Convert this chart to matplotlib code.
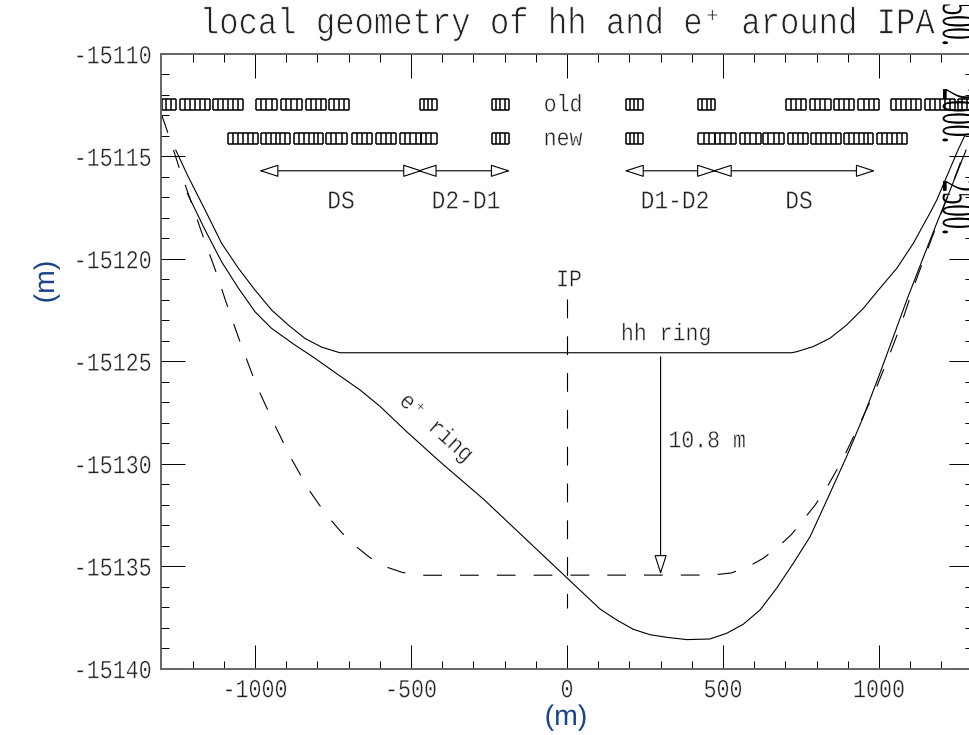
import matplotlib
matplotlib.use("Agg")
import matplotlib.pyplot as plt
import matplotlib.patheffects as pe
from matplotlib.ticker import MultipleLocator
from matplotlib.transforms import Affine2D

plt.rcParams["font.family"] = ["Liberation Mono", "DejaVu Sans Mono"]
plt.rcParams["axes.unicode_minus"] = False
plt.rcParams["lines.scale_dashes"] = False

# hh ring
hh_x = [-1254, -1214, -1160, -1107, -1053, -1000, -947, -893, -840, -786, -728,
        720, 736, 789, 843, 896, 950, 1003, 1057, 1110, 1163, 1185, 1253, 1276]
hh_y = [-15114.69, -15115.99, -15117.61, -15119.24, -15120.46, -15121.52,
        -15122.49, -15123.23, -15123.88, -15124.31, -15124.58,
        -15124.58, -15124.53, -15124.28, -15123.87, -15123.23, -15122.41, -15121.43,
        -15120.46, -15119.24, -15117.77, -15117.13, -15114.69, -15113.95]

# e+ ring, new (solid)
ep_x = [-1217, -1160, -1107, -1053, -1000, -947, -877, -808, -728, -663, -599, -514,
        -407, -268, 0, 106, 159, 213, 266, 320, 384, 458, 512, 565, 619, 672, 725, 779,
        833, 896, 950, 1003, 1046, 1089, 1143, 1185, 1228, 1279]
ep_y = [-15116.80, -15118.59, -15120.14, -15121.43, -15122.58, -15123.39, -15124.15,
        -15124.85, -15125.71, -15126.40, -15127.20, -15128.43, -15129.90, -15131.72,
        -15135.57, -15137.09, -15137.62, -15138.08, -15138.34, -15138.47, -15138.58,
        -15138.55, -15138.27, -15137.83, -15137.13, -15136.07, -15134.86, -15133.56,
        -15131.77, -15129.65, -15127.70, -15125.58, -15123.80, -15122.01, -15119.89,
        -15118.26, -15116.64, -15114.69]

# e+ ring, old (dashed)
old_x = [-1299, -1279, -1244, -1205, -1166, -1126, -1089, -1050, -1009, -986, -938, -886,
         -829, -795, -760, -722, -679, -634, -586, -528, -471,
         465, 526, 581, 629, 677, 720, 757, 793, 827, 884, 985, 1028, 1070, 1107, 1127,
         1179, 1228, 1276]
old_y = [-15112.98, -15113.86, -15115.50, -15117.21, -15118.92, -15120.59, -15122.28,
         -15123.96, -15125.63, -15126.48, -15128.07, -15129.68, -15131.23, -15131.98,
         -15132.69, -15133.36, -15134.00, -15134.55, -15135.00, -15135.30, -15135.44,
         -15135.43, -15135.33, -15135.02, -15134.61, -15134.05, -15133.44, -15132.74,
         -15132.06, -15131.31, -15129.78, -15126.53, -15124.90, -15123.23, -15121.55,
         -15120.70, -15118.59, -15116.64, -15114.69]

# magnets: start, end, number of cells
old_start = [-1299, -1240, -1134, -997, -917, -837, -762, -471, -240,
             189, 421, 701, 779, 856, 934, 1040, 1147, 1253]
old_end = [-1254, -1144, -1039, -930, -850, -773, -699, -418, -187,
           242, 474, 766, 845, 920, 1000, 1135, 1244, 1296]
old_cells = [3, 6, 6, 4, 4, 4, 4, 4, 4, 4, 4, 4, 4, 4, 4, 6, 6, 3]

new_start = [-1086, -981, -875, -772, -690, -613, -535, -469, -240,
             189, 421, 474, 554, 629, 709, 782, 888, 995]
new_end = [-991, -887, -781, -706, -624, -549, -469, -418, -187,
           242, 474, 541, 621, 695, 773, 877, 982, 1089]
new_cells = [6, 6, 6, 4, 4, 4, 4, 3, 4, 4, 3, 4, 4, 4, 4, 6, 6, 6]

old_row = (-15112.75, -15112.2)
new_row = (-15114.39, -15113.84)

# dimension arrows
arrow_y = -15115.7
arrow_from = [-987, -480, 184, 466]
arrow_to = [-463, -182, 479, 988]

gap_x = 300
gap_top = -15124.77
gap_bottom = -15135.4

ip_top = -15121.96
ip_bottom = -15137.04

W, H = 970, 735
BLUE = "#1a4488"
INK = "#222222"


# stretches text along its own axes and thins the strokes, the original font is a
# tall single stroke plotter font
class PlotterText(pe.AbstractPathEffect):
    def __init__(self, sx=1.0, sy=1.0, thin=0.0, centre=True):
        super().__init__()
        self.sx = sx
        self.sy = sy
        self.thin = thin
        self.centre = centre

    def draw_path(self, renderer, gc, tpath, affine, rgbFace=None):
        shift = -(self.sy - 1) * 33 if self.centre else 0
        tr = Affine2D().scale(self.sx, self.sy).translate(0, shift) + affine
        renderer.draw_path(gc, tpath, tr, rgbFace)
        if self.thin > 0:
            gc0 = renderer.new_gc()
            gc0.copy_properties(gc)
            gc0.set_linewidth(self.thin)
            gc0.set_foreground("white")
            renderer.draw_path(gc0, tpath, tr, None)
            gc0.restore()


def label(x, y, s, size=15.5, sy=1.12, thin=0.3, **kw):
    kw.setdefault("color", INK)
    kw.setdefault("ha", "center")
    kw.setdefault("va", "center")
    t = fig.text(x / W, 1 - y / H, s, fontsize=size, **kw)
    t.set_path_effects([PlotterText(sy=sy, thin=thin)])
    return t


def draw_magnets(starts, ends, cells, row):
    for a, b, n in zip(starts, ends, cells):
        ax.hlines(row, a, b, color="black", lw=1.1, snap=True)
        walls = [a + (b - a) * i / n for i in range(n + 1)]
        ax.vlines(walls, row[0], row[1], color="black", lw=1.1, snap=True)


fig = plt.figure(figsize=(W / 100, H / 100), dpi=100)
ax = fig.add_axes([161.4 / W, (H - 668.7) / H, 811.2 / W, 614.7 / H])

ax.plot(hh_x, hh_y, color="black", lw=0.8)
ax.plot(ep_x, ep_y, color="black", lw=0.8)
ax.plot(old_x, old_y, color="black", lw=0.8, dashes=(13.5, 13))
ax.plot([0, 0], [ip_top, ip_bottom], color="black", lw=0.8, dashes=(13.5, 13))

draw_magnets(old_start, old_end, old_cells, old_row)
draw_magnets(new_start, new_end, new_cells, new_row)

head = "<|-|>,head_length=1.7,head_width=0.55"
for a, b in zip(arrow_from, arrow_to):
    ax.annotate("", xy=(b, arrow_y), xytext=(a, arrow_y),
                arrowprops=dict(arrowstyle=head, mutation_scale=7.2, shrinkA=0, shrinkB=0,
                                lw=0.8, fc="white", ec="black"))
ax.annotate("", xy=(gap_x, gap_bottom), xytext=(gap_x, gap_top),
            arrowprops=dict(arrowstyle="-|>,head_length=1.7,head_width=0.55", mutation_scale=7.2,
                            shrinkA=0, shrinkB=0, lw=0.8, fc="white", ec="black"))

ax.set_xlim(-1300, 1300)
ax.set_ylim(-15140, -15110)
ax.xaxis.set_major_locator(MultipleLocator(500))
ax.xaxis.set_minor_locator(MultipleLocator(100))
ax.yaxis.set_major_locator(MultipleLocator(5))
ax.yaxis.set_minor_locator(MultipleLocator(1))
ax.ticklabel_format(useOffset=False, style="plain")
ax.tick_params(which="major", direction="in", top=True, right=True, length=17.5, width=0.7,
               labelsize=15.6, labelcolor=INK)
ax.tick_params(which="minor", direction="in", top=True, right=True, length=6, width=0.7)
ax.tick_params(axis="x", which="major", pad=8)
ax.tick_params(axis="y", which="major", pad=7)
for s in ax.spines.values():
    s.set_linewidth(1.4)
    s.set_color("#666666")
for t in ax.get_xticklabels() + ax.get_yticklabels():
    t.set_path_effects([PlotterText(sy=1.2, thin=0.3)])

label(568, 24, "local geometry of hh and e\u207a around IPA", size=23.2, sy=1.15, thin=0.55)
label(563, 105, "old")
label(563, 139, "new")
label(341, 201, "DS", size=16.5)
label(466, 201, "D2-D1", size=16.5)
label(675, 201, "D1-D2", size=16.5)
label(799, 201, "DS", size=16.5)
label(569, 280, "IP")
label(666, 334, "hh ring")
label(707, 441, "10.8 m")
label(436, 428, "e\u207a ring", rotation=-42, rotation_mode="anchor")

label(566, 718, "(m)", size=20.5, sy=1.0, thin=0, color=BLUE, family="Liberation Sans")
label(47, 282, "(m)", size=20.5, sy=1.0, thin=0, color=BLUE, family="Liberation Sans", rotation=90)

# numbers from another overlay, cut by the right edge
for y, s in [(3, "500."), (88, "2000."), (180, "2500.")]:
    t = fig.text(938 / W, 1 - y / H, s, fontsize=17.6, color="black", family="Liberation Serif",
                 rotation=-90, ha="left", va="top")
    t.set_path_effects([PlotterText(sy=2.0, centre=False)])

fig.savefig("out.png", dpi=100)
